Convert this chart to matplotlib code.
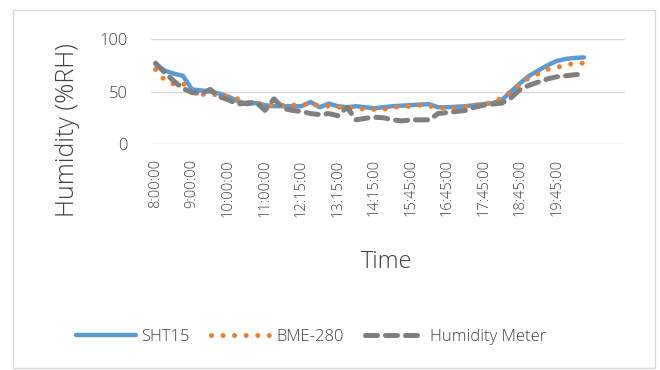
import numpy as np
import matplotlib.pyplot as plt
from matplotlib.patches import Rectangle

times = ["8:00:00", "8:15:00", "8:30:00", "8:45:00", "9:00:00", "9:15:00", "9:30:00", "9:45:00",
         "10:00:00", "10:15:00", "10:30:00", "10:45:00", "11:00:00", "11:15:00", "11:30:00", "11:45:00",
         "12:15:00", "12:30:00", "12:45:00", "13:00:00", "13:15:00", "13:30:00", "13:45:00", "14:00:00",
         "14:15:00", "14:30:00", "14:45:00", "15:15:00", "15:45:00", "16:00:00", "16:15:00", "16:30:00",
         "16:45:00", "17:00:00", "17:15:00", "17:30:00", "17:45:00", "18:00:00", "18:15:00", "18:30:00",
         "18:45:00", "19:00:00", "19:15:00", "19:30:00", "19:45:00", "20:00:00", "20:15:00", "20:30:00",
         "", "", "", ""]

sht15 = [76, 70, 67, 65, 52, 51, 50, 48, 45, 41, 38, 39, 37, 36, 36, 36,
         36, 40, 35, 38.5, 36, 35, 36, 35, 34, 35, 36, 36.5, 37, 37.5, 38, 35,
         35, 35.5, 36, 37, 38, 39, 42, 50, 58, 65, 70, 75, 79, 81, 82, 82.5]
bme280 = [71, 61, 57, 58, 49, 47, 48, 46, 45, 43, 39, 39, 38, 36, 37, 37,
          37, 39, 36, 36, 35, 35, 34, 33, 33, 33, 35, 35.5, 36, 37, 36, 35,
          34, 34.5, 35.5, 37, 38, 40, 44, 50, 57, 63, 67, 71, 73, 75, 77, 77]
meter = [77, 68, 60, 53, 49, 48, 52, 45, 42, 38, 39, 40, 32, 43, 34, 32,
         31, 29, 28, 29, 27, 35, 23, 24.5, 25.5, 25, 23, 22, 23, 23, 23, 29,
         30, 31, 32, 35, 37, 38, 39, 44, 52, 56, 59, 62, 64, 65, 66, 66.5]

plt.rcParams['font.family'] = ['Open Sans', 'DejaVu Sans']
plt.rcParams['font.weight'] = 'light'
txt = '#404040'

fig = plt.figure(figsize=(6.6, 3.7), dpi=100)
fig.patches.append(Rectangle((13 / 660, 2 / 370), 642 / 660, 358 / 370, transform=fig.transFigure,
                             fill=False, edgecolor='#D9D9D9', linewidth=1))
ax = fig.add_axes([151 / 660, 1 - 144 / 370, 474 / 660, 105 / 370])

x = np.arange(len(sht15))
l1, = ax.plot(x, sht15, color='#5B9BD5', lw=3.2, solid_capstyle='round', label='SHT15')
l2, = ax.plot(x, bme280, color='#ED7D31', lw=3.6, dash_capstyle='round', linestyle=(0, (0.01, 2.3)),
              label='BME-280')
l3, = ax.plot(x, meter, color='#7F7F7F', lw=3.6, dash_capstyle='round', linestyle=(0, (2.4, 1.6)),
              label='Humidity Meter')

ax.set_xlim(-0.5, len(times) - 0.5)
ax.set_ylim(0, 100)
ax.set_yticks([0, 50, 100])
ticks = list(range(0, 45, 4))
ax.set_xticks(ticks)
ax.set_xticklabels([times[i] for i in ticks], rotation=90)
ax.tick_params(axis='x', length=0, labelsize=10.5, colors=txt, pad=11)
ax.tick_params(axis='y', length=0, labelsize=12, colors=txt, pad=17)
ax.grid(axis='y', color='#D9D9D9', lw=1)
ax.set_axisbelow(True)
for s in ax.spines.values():
    s.set_visible(False)

fig.text(68 / 660, 1 - 130 / 370, 'Humidity (%RH)', rotation=90, ha='center', va='center',
         fontsize=18, color=txt)
fig.text(387 / 660, 1 - 262 / 370, 'Time', ha='center', va='center', fontsize=17, color=txt)

fig.legend(handles=[l1, l2, l3], loc='center', bbox_to_anchor=(311 / 660, 1 - 337 / 370), ncol=3,
           frameon=False, fontsize=12, handlelength=3.6, columnspacing=1.3, handletextpad=0.3,
           labelcolor=txt)

fig.savefig('out.png', dpi=100)
